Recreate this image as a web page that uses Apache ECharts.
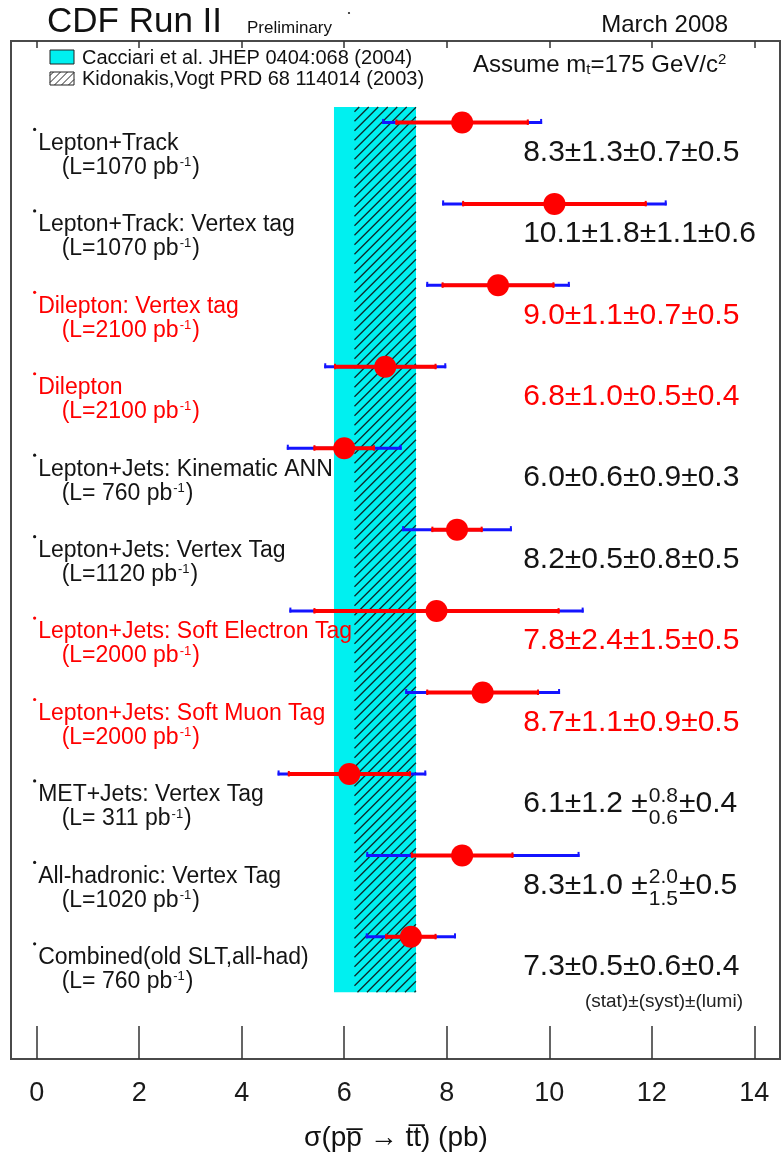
<!DOCTYPE html>
<html><head><meta charset="utf-8">
<script src="https://cdn.jsdelivr.net/npm/echarts@6/dist/echarts.min.js"></script>
<style>html,body{margin:0;padding:0;background:#fff}#c{width:782px;height:1160px}</style>
</head><body><div id="c"></div>
<script>
// ---------------- data ----------------
const analyses = ['Lepton+Track','Lepton+Track: Vertex tag','Dilepton: Vertex tag','Dilepton',
  'Lepton+Jets: Kinematic ANN','Lepton+Jets: Vertex Tag','Lepton+Jets: Soft Electron Tag',
  'Lepton+Jets: Soft Muon Tag','MET+Jets: Vertex Tag','All-hadronic: Vertex Tag','Combined(old SLT,all-had)'];
const luminosity = [1070,1070,2100,2100,760,1120,2000,2000,311,1020,760];
const newResult  = [false,false,true,true,false,false,true,true,false,false,false];
const xsec     = [8.3,10.1,9.0,6.8,6.0,8.2,7.8,8.7,6.1,8.3,7.3];
const statErr  = [1.3,1.8,1.1,1.0,0.6,0.5,2.4,1.1,1.2,1.0,0.5];
const systUp   = [0.7,1.1,0.7,0.5,0.9,0.8,1.5,0.9,0.8,2.0,0.6];
const systDown = [0.7,1.1,0.7,0.5,0.9,0.8,1.5,0.9,0.6,1.5,0.6];
const lumiErr  = [0.5,0.6,0.5,0.4,0.3,0.5,0.5,0.5,0.4,0.5,0.4];
const totalLow  = [6.74,7.91,7.60,5.61,4.88,7.13,4.93,7.19,4.70,6.43,6.42];
const totalHigh = [9.86,12.29,10.40,7.99,7.12,9.27,10.67,10.21,7.60,10.59,8.18];
const theoryCacciari  = [5.8, 7.4];
const theoryKidonakis = [6.2, 7.4];
const xTicks = [0,2,4,6,8,10,12,14];

// ---------------- helpers ----------------
const FF = '"Liberation Sans", Arial, Helvetica, sans-serif';
const BLACK = '#141414', RED = '#ff0000', BLUE = '#1414ff', CYAN = '#00f0f0';
const mctx = document.createElement('canvas').getContext('2d');
function tw(t, size){ mctx.font = size + 'px "Liberation Sans", Arial, sans-serif'; return mctx.measureText(t).width; }
const f1 = v => v.toFixed(1);

function txt(x, y, text, size, fill, align, extra){
  return Object.assign({type:'text', style:{x:x, y:y, text:text, fill:fill,
    fontSize:size, fontFamily:FF, align:align||'left', verticalAlign:'middle'}}, extra||{});
}

function hatchLines(x0, x1, y0, y1, step, color, lw){
  const out = [];
  for (let k = x0 + y0 + step/2; k < x1 + y1; k += step){
    const xa = Math.max(x0, k - y1), xb = Math.min(x1, k - y0);
    if (xb > xa) out.push({type:'line', shape:{x1:xa, y1:k-xa, x2:xb, y2:k-xb},
      style:{stroke:color, lineWidth:lw}});
  }
  return out;
}

function renderBand(params, api){
  const yTop = api.coord([0, -0.19])[1], yBot = api.coord([0, 10.68])[1];
  const cx0 = api.coord([theoryCacciari[0], 0])[0], cx1 = api.coord([theoryCacciari[1], 0])[0];
  const kx0 = api.coord([theoryKidonakis[0], 0])[0], kx1 = api.coord([theoryKidonakis[1], 0])[0];
  const children = [{type:'rect', shape:{x:cx0, y:yTop, width:cx1-cx0, height:yBot-yTop}, style:{fill:CYAN}}];
  return {type:'group', children: children.concat(hatchLines(kx0, kx1, yTop, yBot, 9.5, '#0c2c2c', 1.3))};
}

function renderRow(params, api){
  const i = params.dataIndex;
  const p = api.coord([api.value(0), api.value(1)]);
  const y = p[1];
  const col = newResult[i] ? RED : BLACK;
  const xl = api.coord([totalLow[i], i])[0], xh = api.coord([totalHigh[i], i])[0];
  const sl = api.coord([xsec[i]-statErr[i], i])[0], sh = api.coord([xsec[i]+statErr[i], i])[0];
  const x0 = api.coord([0, i])[0];
  const ch = [
    {type:'line', shape:{x1:xl, y1:y, x2:xh, y2:y}, style:{stroke:BLUE, lineWidth:3}},
    {type:'line', shape:{x1:xl+1, y1:y-3.5, x2:xl+1, y2:y+1.5}, style:{stroke:BLUE, lineWidth:2}},
    {type:'line', shape:{x1:xh-1, y1:y-3.5, x2:xh-1, y2:y+1.5}, style:{stroke:BLUE, lineWidth:2}},
    {type:'line', shape:{x1:sl, y1:y, x2:sh, y2:y}, style:{stroke:RED, lineWidth:4}},
    {type:'line', shape:{x1:sl+1, y1:y-3, x2:sl+1, y2:y+2.5}, style:{stroke:RED, lineWidth:2}},
    {type:'line', shape:{x1:sh-1, y1:y-3, x2:sh-1, y2:y+2.5}, style:{stroke:RED, lineWidth:2}},
    {type:'circle', shape:{cx:p[0], cy:y, r:11}, style:{fill:RED}},
    {type:'circle', shape:{cx:x0-2, cy:y+7, r:1.6}, style:{fill:col}},
    txt(x0+1.5, y+21, analyses[i], 23, col)
  ];
  const lum = luminosity[i];
  const lumStr = (lum < 1000 ? '(L= ' : '(L=') + lum + ' pb';
  ch.push({type:'text', style:{x:x0+25, y:y+45, text:'{a|' + lumStr + '}{s|-1}{a|)}', fill:col,
    fontSize:23, fontFamily:FF, align:'left', verticalAlign:'middle',
    rich:{a:{fontSize:23, fontFamily:FF, fill:col},
          s:{fontSize:13, fontFamily:FF, fill:col, verticalAlign:'top', padding:[0,1,10,1]}}}});
  const vx = x0 + 486.5, vy = y + 30;
  if (systUp[i] === systDown[i]){
    ch.push(txt(vx, vy, f1(xsec[i]) + '±' + f1(statErr[i]) + '±' + f1(systUp[i]) + '±' + f1(lumiErr[i]), 30, col));
  } else {
    const main = f1(xsec[i]) + '±' + f1(statErr[i]) + ' ±';
    const sx = vx + tw(main, 30) + 1;
    const up = f1(systUp[i]), dn = f1(systDown[i]);
    ch.push(txt(vx, vy, main, 30, col));
    ch.push(txt(sx, vy - 8, up, 21, col));
    ch.push(txt(sx, vy + 14, dn, 21, col));
    ch.push(txt(sx + Math.max(tw(up, 21), tw(dn, 21)) + 1, vy, '±' + f1(lumiErr[i]), 30, col));
  }
  return {type:'group', children: ch};
}

// ---------------- chart ----------------
const chart = echarts.init(document.getElementById('c'), null, {renderer:'canvas'});
const legendHatch = hatchLines(50, 74, 72, 85, 7, '#222', 1);
chart.setOption({
  animation:false,
  backgroundColor:'#ffffff',
  grid:{left:11, right:2, top:41, bottom:101, show:true, borderColor:'#4a4a4a', borderWidth:2, containLabel:false},
  xAxis:[
    {type:'value', position:'bottom', min:-0.5, max:14.5,
      axisLine:{show:true, onZero:false, lineStyle:{color:'#4a4a4a', width:2}},
      axisTick:{show:true, inside:true, length:33, customValues:xTicks, lineStyle:{color:'#333', width:1.5}},
      axisLabel:{show:true, margin:21, customValues:xTicks, fontSize:27, fontFamily:FF, color:'#1a1a1a'},
      splitLine:{show:false}},
    {type:'value', position:'top', min:-0.5, max:14.5,
      axisLine:{show:true, onZero:false, lineStyle:{color:'#4a4a4a', width:2}},
      axisTick:{show:true, inside:true, length:7, customValues:xTicks, lineStyle:{color:'#333', width:1.5}},
      axisLabel:{show:false}, splitLine:{show:false}}
  ],
  yAxis:{type:'value', min:-1, max:11.5, inverse:true, show:false},
  graphic:[
    {type:'text', x:47, y:22, style:{text:'CDF Run II', fontSize:35, fontFamily:FF, fill:'#111', align:'left', verticalAlign:'middle'}},
    {type:'text', x:247, y:28, style:{text:'Preliminary', fontSize:17, fontFamily:FF, fill:'#111', align:'left', verticalAlign:'middle'}},
    {type:'circle', shape:{cx:349, cy:13, r:1.1}, style:{fill:'#222'}},
    {type:'text', x:728, y:25, style:{text:'March 2008', fontSize:24, fontFamily:FF, fill:'#111', align:'right', verticalAlign:'middle'}},
    {type:'rect', shape:{x:50, y:50, width:24, height:14}, style:{fill:CYAN, stroke:'#222', lineWidth:1}},
    {type:'rect', shape:{x:50, y:72, width:24, height:13}, style:{fill:'#fff', stroke:'#222', lineWidth:1}},
    {type:'group', children: legendHatch},
    {type:'text', x:82, y:58, style:{text:'Cacciari et al. JHEP 0404:068 (2004)', fontSize:20, fontFamily:FF, fill:'#111', align:'left', verticalAlign:'middle'}},
    {type:'text', x:82, y:79, style:{text:'Kidonakis,Vogt PRD 68 114014 (2003)', fontSize:20, fontFamily:FF, fill:'#111', align:'left', verticalAlign:'middle'}},
    {type:'text', x:473, y:65, style:{text:'{a|Assume m}{b|t}{a|=175 GeV/c}{c|2}', fill:'#111', fontSize:24, fontFamily:FF,
      align:'left', verticalAlign:'middle',
      rich:{a:{fontSize:24, fontFamily:FF, fill:'#111'},
            b:{fontSize:15, fontFamily:FF, fill:'#111', verticalAlign:'bottom', padding:[8,0,0,0]},
            c:{fontSize:15, fontFamily:FF, fill:'#111', verticalAlign:'top', padding:[0,0,10,0]}}}},
    {type:'text', x:743, y:1002, style:{text:'(stat)±(syst)±(lumi)', fontSize:19, fontFamily:FF, fill:'#222', align:'right', verticalAlign:'middle'}},
    {type:'text', x:396, y:1138, style:{text:'σ(pp\u0305 → tt\u0305) (pb)', fontSize:28, fontFamily:FF, fill:'#111', align:'center', verticalAlign:'middle'}}
  ],
  series:[
    {type:'custom', renderItem:renderBand, data:[[6.6, 5]], clip:false, silent:true, z:1},
    {type:'custom', renderItem:renderRow, data:xsec.map((v,i)=>[v, i]), clip:false, silent:true, z:2}
  ]
});
</script></body></html>
